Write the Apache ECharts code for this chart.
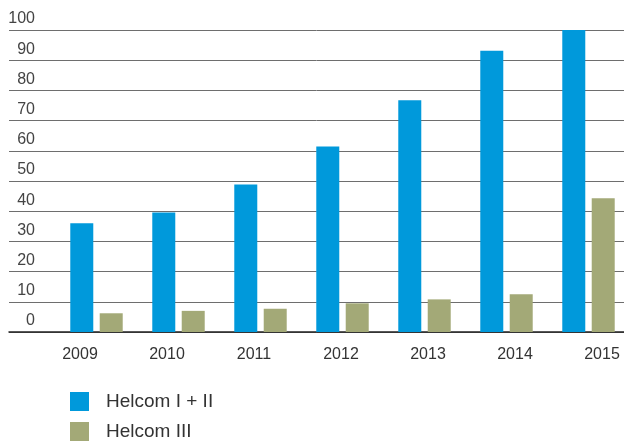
<!DOCTYPE html>
<html>
<head>
<meta charset="utf-8">
<script src="https://cdn.jsdelivr.net/npm/echarts@6/dist/echarts.min.js"></script>
<style>
  html, body { margin: 0; padding: 0; background: #fff; }
  #chart { width: 624px; height: 444px; }
</style>
</head>
<body>
<div id="chart"></div>
<script>
// Helcom participation by year
const years = ['2009', '2010', '2011', '2012', '2013', '2014', '2015'];
const helcomOneTwo = [36, 39.6, 48.8, 61.4, 76.7, 93.1, 100];
const helcomThree = [6.2, 7.0, 7.7, 9.5, 10.8, 12.5, 44.3];
const yTicks = { min: 0, max: 100, interval: 10 };

const FONT = '"Liberation Sans", Arial, sans-serif';
const BLUE = '#0099DB';
const GREEN = '#A3A977';

const chart = echarts.init(document.getElementById('chart'), null, { renderer: 'canvas' });

const plotTop = 30;
const plotBottom = 112;
const hiddenY = (gridIndex) => ({
  type: 'value', gridIndex, min: yTicks.min, max: yTicks.max, interval: yTicks.interval,
  show: false
});

chart.setOption({
  animation: false,
  backgroundColor: '#fff',
  textStyle: { fontFamily: FONT },
  legend: {
    orient: 'vertical',
    left: 70,
    top: 392,
    padding: 0,
    itemWidth: 19,
    itemHeight: 19,
    itemGap: 11,
    icon: 'rect',
    textStyle: { fontFamily: FONT, fontSize: 19, color: '#333', padding: [0, 0, 0, 12] },
    data: ['Helcom I + II', 'Helcom III']
  },
  grid: [
    // scale with gridlines and baseline
    { left: 9, right: 0, top: plotTop, bottom: plotBottom, outerBoundsMode: 'none' },
    // bars
    { left: 55.5, width: 574, top: plotTop, bottom: plotBottom, outerBoundsMode: 'none' },
    // year labels
    { left: 36.5, width: 609, top: plotTop, bottom: plotBottom, outerBoundsMode: 'none' }
  ],
  xAxis: [
    {
      type: 'category', gridIndex: 0, data: years,
      axisLine: { show: true, lineStyle: { color: '#222', width: 1.5 } },
      axisTick: { show: false }, axisLabel: { show: false }, splitLine: { show: false }
    },
    {
      type: 'category', gridIndex: 1, data: years, show: false
    },
    {
      type: 'category', gridIndex: 2, data: years,
      axisLine: { show: false }, axisTick: { show: false },
      axisLabel: { margin: 15, fontSize: 16, color: '#333', fontFamily: FONT }
    }
  ],
  yAxis: [
    {
      type: 'value', gridIndex: 0, min: yTicks.min, max: yTicks.max, interval: yTicks.interval,
      axisLine: { show: false }, axisTick: { show: false },
      splitLine: { show: true, lineStyle: { color: '#6e6e6e', width: 1 } },
      axisLabel: {
        inside: true, align: 'right', margin: 26, verticalAlign: 'bottom',
        padding: [0, 0, 3, 0], fontSize: 16, color: '#444', fontFamily: FONT
      }
    },
    hiddenY(1),
    hiddenY(2)
  ],
  series: [
    {
      name: 'Helcom I + II', type: 'bar', xAxisIndex: 1, yAxisIndex: 1,
      data: helcomOneTwo, barWidth: 23, barGap: '28%',
      itemStyle: { color: BLUE }
    },
    {
      name: 'Helcom III', type: 'bar', xAxisIndex: 1, yAxisIndex: 1,
      data: helcomThree, barWidth: 23,
      itemStyle: { color: GREEN }
    }
  ]
});
</script>
</body>
</html>
